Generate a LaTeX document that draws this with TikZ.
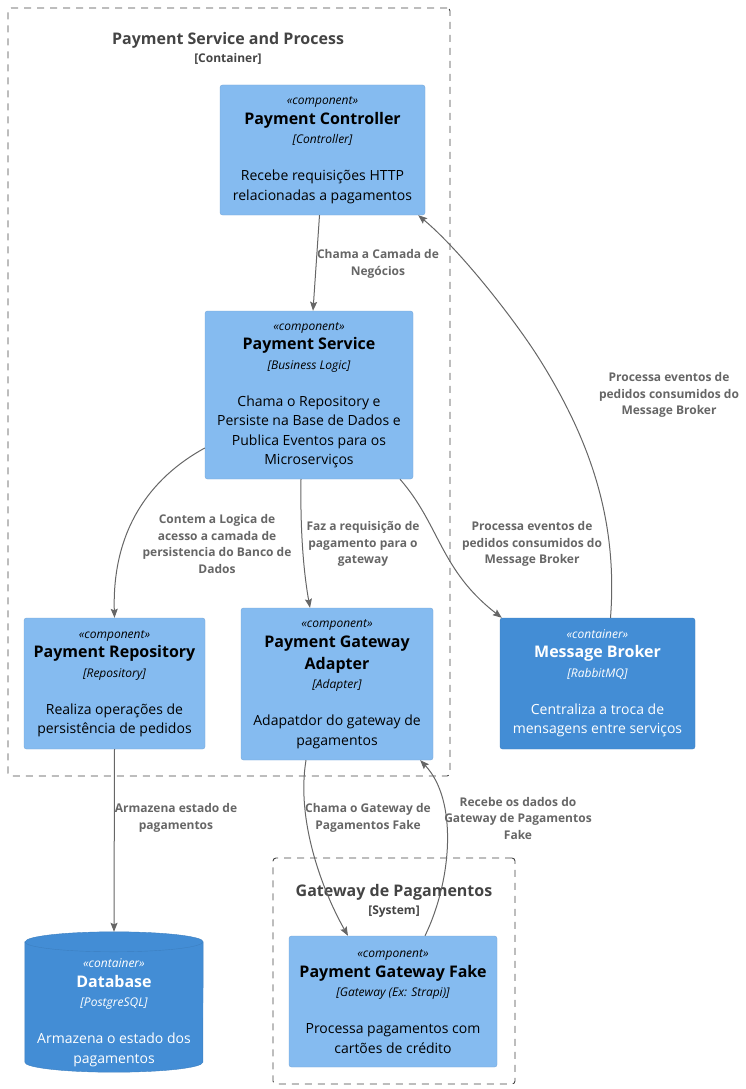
\documentclass[tikz,border=0pt]{standalone}
\usepackage{fontspec}
\setmainfont{Open Sans}
\usetikzlibrary{shapes.geometric,arrows.meta}
\definecolor{compfill}{HTML}{85BBF0}
\definecolor{compline}{HTML}{78A8D8}
\definecolor{contfill}{HTML}{438DD5}
\definecolor{contline}{HTML}{3C7FC0}
\definecolor{relgray}{HTML}{666666}
\definecolor{bndgray}{HTML}{444444}
\newcommand{\stype}[1]{{\fontsize{12}{14}\selectfont\itshape «#1»}}
\newcommand{\ctitle}[1]{{\fontsize{16}{19}\selectfont\bfseries #1}}
\newcommand{\ctech}[1]{{\fontsize{12}{14}\selectfont\itshape [#1]}}

\begin{document}
\begin{tikzpicture}[x=1pt,y=-1pt]
\tikzstyle{comp}=[rectangle, rounded corners=2.5pt, draw=compline, fill=compfill,
  align=center, inner sep=0pt, font=\fontsize{14}{19.5}\selectfont]
\tikzstyle{cont}=[comp, draw=contline, fill=contfill, text=white]
\tikzstyle{dbase}=[rectangle, inner sep=0pt]
\tikzstyle{dbtext}=[text=white, align=center, font=\fontsize{14}{19.5}\selectfont]
\tikzstyle{bnd}=[rectangle, rounded corners=3pt, draw=bndgray, line width=0.9pt,
  dash pattern=on 7pt off 6pt, inner sep=0pt]
\tikzstyle{bndtitle}=[text=bndgray, font=\fontsize{16}{19}\selectfont\bfseries]
\tikzstyle{bndtype}=[text=bndgray, font=\fontsize{12}{14}\selectfont\bfseries]
\tikzstyle{rel}=[draw=relgray, line width=1pt,
  -{Stealth[length=9pt,width=7pt,inset=1.5pt]}]
\tikzstyle{rellabel}=[text=relgray, align=center,
  font=\fontsize{12}{16.5}\selectfont\bfseries]

\useasboundingbox (0,0) rectangle (746,1089);

% boundaries
\node[bnd, minimum width=442pt, minimum height=768pt] (psp) at (229,392) {};
\node[bndtitle] (psp-title) at (228,40) {Payment Service and Process};
\node[bndtype] (psp-type) at (228,59) {[Container]};
\node[bnd, minimum width=242pt, minimum height=226pt] (gwp) at (394,971) {};
\node[bndtitle] (gwp-title) at (394,892) {Gateway de Pagamentos};
\node[bndtype] (gwp-type) at (394,912) {[System]};

% components
\node[comp, minimum width=205pt, minimum height=130pt] (ctrl) at (322.5,150)
  {\stype{component}\\\ctitle{Payment Controller}\\\ctech{Controller}\\[17.5pt]
   Recebe requisições HTTP\\relacionadas a pagamentos};
\node[comp, minimum width=208pt, minimum height=168pt] (svc) at (309,395)
  {\stype{component}\\\ctitle{Payment Service}\\\ctech{Business Logic}\\[17.5pt]
   Chama o Repository e\\Persiste na Base de Dados e\\Publica Eventos para os\\Microserviços};
\node[comp, minimum width=181pt, minimum height=131pt] (repo) at (114.5,683.5)
  {\stype{component}\\\ctitle{Payment Repository}\\\ctech{Repository}\\[17.5pt]
   Realiza operações de\\persistência de pedidos};
\node[comp, minimum width=192pt, minimum height=152pt] (gwa) at (337,684)
  {\stype{component}\\\ctitle{Payment Gateway}\\[2.5pt]\ctitle{Adapter}\\\ctech{Adapter}\\[17.5pt]
   Adapatdor do gateway de\\pagamentos};
\node[cont, minimum width=195pt, minimum height=131pt] (mb) at (597.5,683.5)
  {\stype{container}\\\ctitle{Message Broker}\\\ctech{RabbitMQ}\\[17.5pt]
   Centraliza a troca de\\mensagens entre serviços};
\node[comp, minimum width=208pt, minimum height=131pt] (fake) at (393,1001.5)
  {\stype{component}\\\ctitle{Payment Gateway Fake}\\\ctech{Gateway (Ex: Strapi)}\\[17.5pt]
   Processa pagamentos com\\cartões de crédito};

% database cylinder
\node[dbase, minimum width=178pt, minimum height=140pt] (db) at (114,1002) {};
\path[draw=contline, fill=contfill] ([yshift=-10pt]db.north west) -- ([yshift=10pt]db.south west)
  arc[start angle=180, end angle=0, x radius=89, y radius=10]
  -- ([yshift=-10pt]db.north east)
  arc[start angle=0, end angle=-180, x radius=89, y radius=10] -- cycle;
\draw[contline] ([yshift=-10pt]db.north west)
  arc[start angle=180, end angle=0, x radius=89, y radius=10];
\node[dbtext] (db-text) at (114,1013)
  {\stype{container}\\\ctitle{Database}\\\ctech{PostgreSQL}\\[17.5pt]
   Armazena o estado dos\\pagamentos};

% relations
\draw[rel] ([xshift=-3pt]ctrl.south) -- ([xshift=4pt]svc.north);
\draw[rel] ([yshift=-53pt]svc.west) .. controls (150,478) and (112,530) .. (repo.north);
\draw[rel] ([xshift=-8pt]svc.south) .. controls (300,540) and (305,580) .. ([xshift=-27pt]gwa.north);
\draw[rel] ([xshift=91pt]svc.south) .. controls (440,525) and (440,570) .. ([xshift=2pt]mb.north west);
\draw[rel] ([xshift=13pt]mb.north) .. controls (618,520) and (590,440) .. (540,360)
  .. controls (515,320) and (460,250) .. ([xshift=-7pt]ctrl.south east);
\draw[rel] (repo.south) -- (db.north);
\draw[rel] ([xshift=-31pt]gwa.south) .. controls (296,820) and (322,890) .. ([xshift=-45pt]fake.north);
\draw[rel] ([xshift=32pt]fake.north) .. controls (452,880) and (458,800) .. ([xshift=-13pt]gwa.south east);

% relation labels
\node[rellabel] (l-ctrl-svc) at (378,264) {Chama a Camada de\\Negócios};
\node[rellabel] (l-svc-repo) at (217,544) {Contem a Logica de\\acesso a camada de\\persistencia do Banco de\\Dados};
\node[rellabel] (l-svc-gwa) at (363,544) {Faz a requisição de\\pagamento para o\\gateway};
\node[rellabel] (l-svc-mb) at (532,544) {Processa eventos de\\pedidos consumidos do\\Message Broker};
\node[rellabel] (l-mb-ctrl) at (669,395) {Processa eventos de\\pedidos consumidos do\\Message Broker};
\node[rellabel] (l-repo-db) at (176,818) {Armazena estado de\\pagamentos};
\node[rellabel] (l-gwa-fake) at (368,818) {Chama o Gateway de\\Pagamentos Fake};
\node[rellabel] (l-fake-gwa) at (518,818) {Recebe os dados do\\Gateway de Pagamentos\\Fake};
\end{tikzpicture}
\end{document}
